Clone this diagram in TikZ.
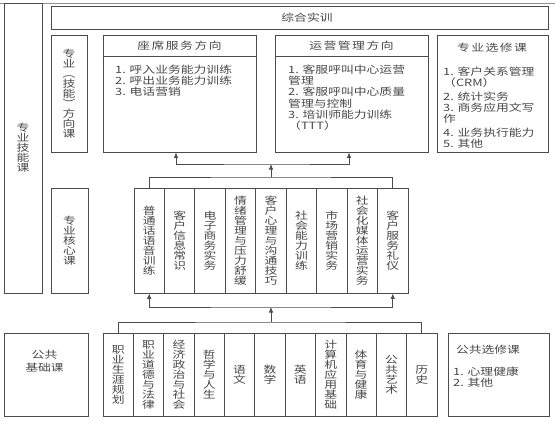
\documentclass[tikz,border=0pt]{standalone}
\usepackage{fontspec}
\setmainfont[FakeStretch=1.28]{Noto Sans CJK SC}
\usetikzlibrary{arrows.meta}
\begin{document}
\begin{tikzpicture}[x=1pt,y=-1pt,
  every node/.style={text=black!72, inner sep=0pt},
  box/.style={draw=black!70, line width=0.8pt},
  vt/.style={box, align=center, font=\fontsize{10}{10}\selectfont},
  lst/.style={align=left, font=\fontsize{10}{11.3}\selectfont, anchor=north west},
  ttl/.style={font=\fontsize{10}{12}\selectfont\addfontfeature{LetterSpace=15}},
  txt/.style={font=\fontsize{10}{12}\selectfont},
  conn/.style={draw=black!70, line width=0.8pt},
  tip/.tip={Latex[length=5.5pt,width=4.5pt]},
  arr/.style={-tip},
  arr2/.style={tip-tip}
]
\useasboundingbox (0,0) rectangle (555,421);
\draw[draw={rgb,255:red,160;green,140;blue,118}, line width=0.7pt] (0,3) -- (555,3);

% left big label
\node[vt, minimum width=38, minimum height=290] (skill) at (23,148) {专\\业\\技\\能\\课};

% top practice box
\node[box, txt, minimum width=497, minimum height=23] (zonghe) at (299.5,17.5) {\hspace*{15pt}综合实训};

% direction label
\node[vt, minimum width=36, minimum height=117] (dirlab) at (69,93.5) {专\\业\\︵\\技\\能\\︶\\方\\向\\课};

% seat direction
\node[box, minimum width=153, minimum height=117] (seat) at (179.5,93.5) {};
\draw[conn] ([yshift=-22pt]seat.north west) -- ([yshift=-22pt]seat.north east);
\node[ttl] (seatT) at (179.5,46) {座席服务方向};
\node[lst] (seatL) at (115,64.5) {1. 呼入业务能力训练\\2. 呼出业务能力训练\\3. 电话营销};

% operations direction
\node[box, minimum width=153, minimum height=117] (ops) at (351.5,93.5) {};
\draw[conn] ([yshift=-22pt]ops.north west) -- ([yshift=-22pt]ops.north east);
\node[ttl] (opsT) at (351.5,46) {运营管理方向};
\node[lst] (opsL) at (288,64.5) {1. 客服呼叫中心运营\\管理\\2. 客服呼叫中心质量\\管理与控制\\3. 培训师能力训练\\（TTT）};

% professional electives
\node[box, minimum width=111, minimum height=117] (pel) at (492.5,93.5) {};
\node[ttl] (pelT) at (492,48) {专业选修课};
\node[lst] (pelL) at (443,66.5) {1. 客户关系管理\\（CRM）\\[2.5pt]2. 统计实务\\3. 商务应用文写\\作\\[2.5pt]4. 业务执行能力\\5. 其他};

% core label
\node[vt, minimum width=37, minimum height=105] (corelab) at (69.5,240.5) {专\\业\\核\\心\\课};

% core columns
\tikzset{ccol/.style={vt, minimum width=30.44, minimum height=105}}
\node[ccol] (c1) at (149.22,240.5) {普\\通\\话\\语\\音\\训\\练};
\node[ccol] (c2) at (179.67,240.5) {客\\户\\信\\息\\常\\识};
\node[ccol] (c3) at (210.11,240.5) {电\\子\\商\\务\\实\\务};
\node[ccol] (c4) at (240.56,240.5) {情\\绪\\管\\理\\与\\压\\力\\舒\\缓};
\node[ccol] (c5) at (271.00,240.5) {客\\户\\心\\理\\与\\沟\\通\\技\\巧};
\node[ccol] (c6) at (301.44,240.5) {社\\会\\能\\力\\训\\练};
\node[ccol] (c7) at (331.89,240.5) {市\\场\\营\\销\\实\\务};
\node[ccol] (c8) at (362.33,240.5) {社\\会\\化\\媒\\体\\运\\营\\实\\务};
\node[ccol] (c9) at (392.78,240.5) {客\\户\\服\\务\\礼\\仪};

% public label
\node[box, minimum width=84, minimum height=83] (publab) at (46,374.5) {};
\node[align=center, font=\fontsize{10}{13}\selectfont] (publabT) at (44.5,361.5) {公共\\基础课};

% public columns
\tikzset{pcol/.style={vt, minimum width=30.36, minimum height=83}}
\node[pcol] (p1) at (118.18,374.5) {职\\业\\生\\涯\\规\\划};
\node[pcol] (p2) at (148.55,374.5) {职\\业\\道\\德\\与\\法\\律};
\node[pcol] (p3) at (178.91,374.5) {经\\济\\政\\治\\与\\社\\会};
\node[pcol] (p4) at (209.27,374.5) {哲\\学\\与\\人\\生};
\node[pcol] (p5) at (239.64,374.5) {语\\文};
\node[pcol] (p6) at (270.00,374.5) {数\\学};
\node[pcol] (p7) at (300.36,374.5) {英\\语};
\node[pcol] (p8) at (330.73,374.5) {计\\算\\机\\应\\用\\基\\础};
\node[pcol] (p9) at (361.09,374.5) {体\\育\\与\\健\\康};
\node[pcol] (p10) at (391.45,374.5) {公\\共\\艺\\术};
\node[pcol] (p11) at (421.82,374.5) {历\\史};

% public electives
\node[box, minimum width=101, minimum height=83] (pubel) at (498.5,374.5) {};
\node[txt] (pubelT) at (488,350) {公共选修课};
\node[lst] (pubelL) at (453,366.5) {1. 心理健康\\2. 其他};

% connectors
\coordinate (pubbar) at (271,322);
\coordinate (corebar) at (271,307);
\coordinate (coretop) at (271,177);
\coordinate (dirbar) at (271,164);
\draw[conn] (p1.north) |- (pubbar) -| (p11.north);
\draw[conn,arr] (pubbar) -- (corebar);
\draw[conn,arr2] (c1.south) |- (corebar) -| (c9.south);
\draw[conn] (c1.north) |- (coretop) -| (c9.north);
\draw[conn,arr] (coretop) -- (dirbar);
\draw[conn,arr2] ([xshift=-3.5pt]seat.south) |- (dirbar) -| ([xshift=-2.5pt]ops.south);
\end{tikzpicture}
\end{document}
